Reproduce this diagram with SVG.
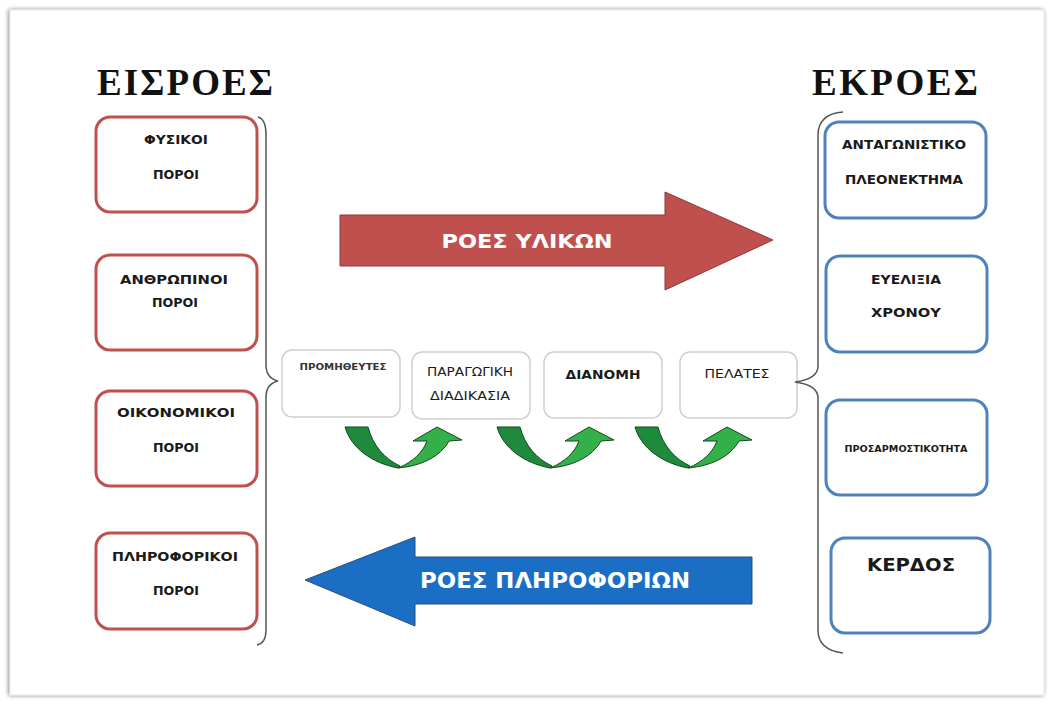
<svg xmlns="http://www.w3.org/2000/svg" width="1053" height="702" viewBox="0 0 1053 702">
<defs>
<filter id="sh" x="-5%" y="-5%" width="110%" height="110%"><feGaussianBlur in="SourceAlpha" stdDeviation="2"/><feOffset dx="-1" dy="0"/><feComponentTransfer><feFuncA type="linear" slope="0.5"/></feComponentTransfer><feMerge><feMergeNode/><feMergeNode in="SourceGraphic"/></feMerge></filter>
<style>
.in{fill:#fff;stroke:#c0504d;stroke-width:3}
.out{fill:#fff;stroke:#4f81bd;stroke-width:3}
.mid{fill:#fff;stroke:#cfcfcf;stroke-width:1.5}
.t{font-family:"DejaVu Sans",sans-serif;font-weight:bold;font-size:12.5px;fill:#1a1a1a;text-anchor:middle}
.ttl{font-family:"Liberation Serif",serif;font-weight:bold;font-size:37px;fill:#111}
.br{fill:none;stroke:#555;stroke-width:1.5}
.gd{fill:#1f8a3b;stroke:#0f4a1c;stroke-width:1}
.gl{fill:#34b04a;stroke:#0f4a1c;stroke-width:1}
.at{font-family:"DejaVu Sans",sans-serif;font-weight:bold;fill:#fff;text-anchor:middle}
</style>
<g id="garrow">
<path class="gd" d="M345,427 L368,427 C373,446 385,459 400,466 L398,468 C372,463 351,448 345,427 Z"/>
<path class="gl" d="M398,468 C413,462 423,452 427,441 L413,441 L437,427 L462,440 L449,441 C440,457 421,466 398,468 Z"/>
</g>
</defs>
<rect width="1053" height="702" fill="#fff"/>
<rect x="10" y="10" width="1034" height="685" fill="#fff" stroke="#e6e6e6" stroke-width="1" filter="url(#sh)"/>

<g id="title-in"><text class="ttl" x="97" y="95" textLength="176">ΕΙΣΡΟΕΣ</text></g>
<g id="title-out"><text class="ttl" x="812" y="95" textLength="166">ΕΚΡΟΕΣ</text></g>

<g id="in1"><rect class="in" x="96" y="117" width="161" height="95" rx="14"/><text class="t" x="176" y="144" textLength="64" lengthAdjust="spacingAndGlyphs">ΦΥΣΙΚΟΙ</text><text class="t" x="176" y="179" textLength="46" lengthAdjust="spacingAndGlyphs">ΠΟΡΟΙ</text></g>
<g id="in2"><rect class="in" x="96" y="255" width="161" height="95" rx="14"/><text class="t" x="174" y="284" textLength="108" lengthAdjust="spacingAndGlyphs">ΑΝΘΡΩΠΙΝΟΙ</text><text class="t" x="175" y="307" textLength="46" lengthAdjust="spacingAndGlyphs">ΠΟΡΟΙ</text></g>
<g id="in3"><rect class="in" x="96" y="391" width="161" height="95" rx="14"/><text class="t" x="176" y="417" textLength="118" lengthAdjust="spacingAndGlyphs">ΟΙΚΟΝΟΜΙΚΟΙ</text><text class="t" x="176" y="452" textLength="46" lengthAdjust="spacingAndGlyphs">ΠΟΡΟΙ</text></g>
<g id="in4"><rect class="in" x="96" y="533" width="161" height="96" rx="14"/><text class="t" x="175" y="561" textLength="126" lengthAdjust="spacingAndGlyphs">ΠΛΗΡΟΦΟΡΙΚΟΙ</text><text class="t" x="176" y="595" textLength="46" lengthAdjust="spacingAndGlyphs">ΠΟΡΟΙ</text></g>

<g id="out1"><rect class="out" x="825" y="122" width="161" height="96" rx="14"/><text class="t" x="904" y="149" textLength="124" lengthAdjust="spacingAndGlyphs">ΑΝΤΑΓΩΝΙΣΤΙΚΟ</text><text class="t" x="904" y="184" textLength="118" lengthAdjust="spacingAndGlyphs">ΠΛΕΟΝΕΚΤΗΜΑ</text></g>
<g id="out2"><rect class="out" x="826" y="256" width="161" height="96" rx="14"/><text class="t" x="906" y="284" textLength="70" lengthAdjust="spacingAndGlyphs">ΕΥΕΛΙΞΙΑ</text><text class="t" x="906" y="317" textLength="70" lengthAdjust="spacingAndGlyphs">ΧΡΟΝΟΥ</text></g>
<g id="out3"><rect class="out" x="826" y="400" width="161" height="95" rx="14"/><text class="t" x="906" y="452" style="font-size:8.5px" textLength="123" lengthAdjust="spacingAndGlyphs">ΠΡΟΣΑΡΜΟΣΤΙΚΟΤΗΤΑ</text></g>
<g id="out4"><rect class="out" x="831" y="538" width="159" height="95" rx="14"/><text class="t" x="911" y="571" style="font-size:18px" textLength="88" lengthAdjust="spacingAndGlyphs">ΚΕΡΔΟΣ</text></g>

<g id="m1"><rect class="mid" x="282" y="350" width="118" height="67" rx="10"/><text class="t" x="343" y="370" style="font-size:9.5px;fill:#333" textLength="87" lengthAdjust="spacingAndGlyphs">ΠΡΟΜΗΘΕΥΤΕΣ</text></g>
<g id="m2"><rect class="mid" x="412" y="352" width="118" height="67" rx="10"/><text class="t" x="470" y="376" style="font-weight:normal;font-size:12px" textLength="86" lengthAdjust="spacingAndGlyphs">ΠΑΡΑΓΩΓΙΚΗ</text><text class="t" x="470" y="400" style="font-weight:normal;font-size:12px" textLength="80" lengthAdjust="spacingAndGlyphs">ΔΙΑΔΙΚΑΣΙΑ</text></g>
<g id="m3"><rect class="mid" x="544" y="352" width="118" height="66" rx="10"/><text class="t" x="603" y="379" style="font-size:12px" textLength="75" lengthAdjust="spacingAndGlyphs">ΔΙΑΝΟΜΗ</text></g>
<g id="m4"><rect class="mid" x="680" y="352" width="117" height="66" rx="10"/><text class="t" x="737" y="378" style="font-size:12px;font-weight:normal" textLength="65" lengthAdjust="spacingAndGlyphs">ΠΕΛΑΤΕΣ</text></g>

<g id="connectors">
<path class="br" d="M258,117 Q266,119 266,135 L266,365 Q266,378 278,381 Q266,384 266,397 L266,630 Q266,643 257,645"/>
<path class="br" d="M843,112 Q818,114 818,135 L818,366 Q818,379 795,382 Q818,385 818,398 L818,630 Q818,650 843,653"/>
<use href="#garrow"/>
<use href="#garrow" transform="translate(152,0)"/>
<use href="#garrow" transform="translate(290,0)"/>
<g id="flow-materials"><path d="M340,215 L665,215 L665,192 L773,240 L665,290 L665,266 L340,266 Z" fill="#c0504d" stroke="#8c3836" stroke-width="1"/><text class="at" x="527" y="248" style="font-size:20px" textLength="171" lengthAdjust="spacingAndGlyphs">ΡΟΕΣ ΥΛΙΚΩΝ</text></g>
<g id="flow-info"><path d="M752,557 L415,557 L415,537 L305,580 L415,626 L415,604 L752,604 Z" fill="#1a6fc4" stroke="#2a4f7a" stroke-width="1"/><text class="at" x="555" y="588" style="font-size:21px" textLength="270" lengthAdjust="spacingAndGlyphs">ΡΟΕΣ ΠΛΗΡΟΦΟΡΙΩΝ</text></g>
</g>
</svg>
